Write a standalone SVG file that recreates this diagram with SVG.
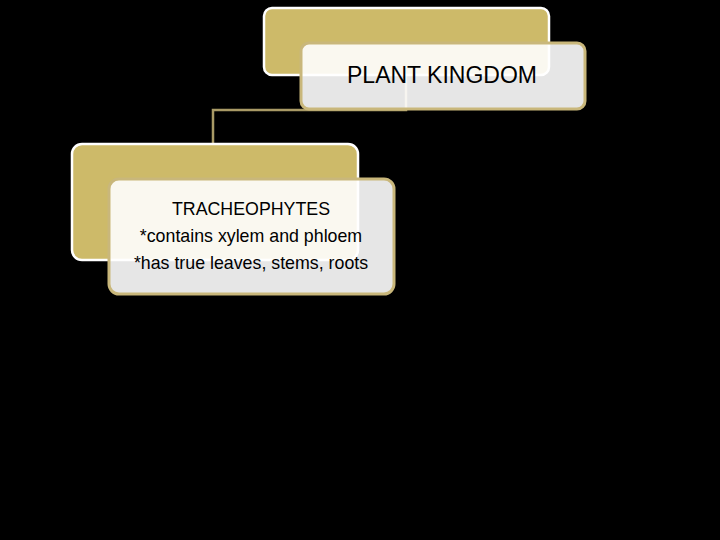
<svg xmlns="http://www.w3.org/2000/svg" width="720" height="540" viewBox="0 0 720 540">
<style>
.back{fill:#CDBA69;stroke:#FFFFFF;stroke-width:2.5}
.front{fill:#FFFFFF;fill-opacity:0.9;stroke:#C9B77B;stroke-width:3}
.conn{fill:none;stroke:#A99A66;stroke-width:2.5}
.t{font-family:"Liberation Sans",Arial,sans-serif;fill:#000;text-anchor:middle}
</style>
<rect width="720" height="540" fill="#000"/>
<g id="connectors">
<path class="conn" d="M406 75 V110 H213 V143"/>
</g>
<g id="plant-kingdom">
<rect class="back" x="264" y="8" width="285" height="67" rx="8"/>
<rect class="front" x="301" y="43" width="284" height="66" rx="8"/>
<text class="t" x="442" y="83" font-size="23">PLANT KINGDOM</text>
</g>
<g id="tracheophytes">
<rect class="back" x="72" y="144" width="286" height="116" rx="10"/>
<rect class="front" x="109" y="179" width="285" height="115" rx="10"/>
<text class="t" font-size="17.8"><tspan x="251" y="215">TRACHEOPHYTES</tspan><tspan x="251" y="242">*contains xylem and phloem</tspan><tspan x="251" y="269">*has true leaves, stems, roots</tspan></text>
</g>
</svg>
